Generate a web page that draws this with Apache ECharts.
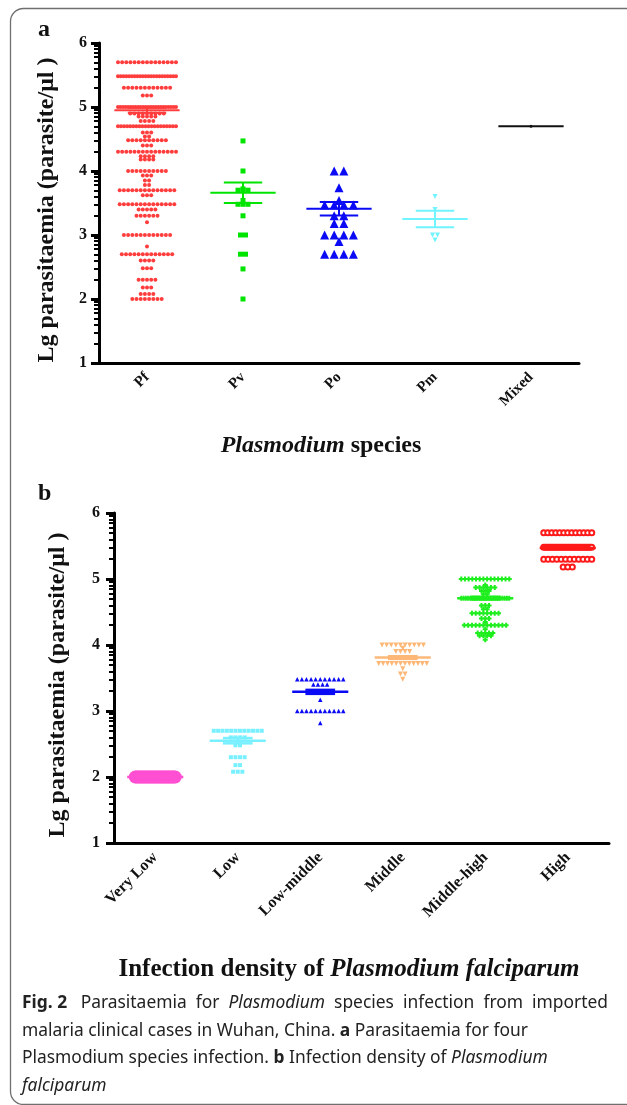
<!DOCTYPE html>
<html>
<head>
<meta charset="utf-8">
<script src="https://cdn.jsdelivr.net/npm/echarts@6/dist/echarts.min.js"></script>
<style>
  html, body { margin: 0; padding: 0; background: #fff; }
  #chart { width: 627px; height: 1105px; }
</style>
</head>
<body>
<div id="chart"></div>
<script>
// each row = [lg parasitaemia, number of dots drawn on that row]
const speciesCats = ['Pf', 'Pv', 'Po', 'Pm', 'Mixed'];
const pfRows = [
  [5.70, 15], [5.48, 22], [5.30, 12], [5.18, 3],
  [5.00, 24], [4.90, 9], [4.85, 5], [4.78, 4], [4.70, 20],
  [4.60, 3], [4.54, 2], [4.48, 10], [4.40, 3], [4.30, 15],
  [4.23, 4], [4.18, 4], [4.00, 10], [3.93, 3], [3.85, 2], [3.78, 2],
  [3.70, 14], [3.62, 3], [3.48, 14], [3.40, 5], [3.30, 6], [3.20, 1],
  [3.00, 12], [2.82, 1], [2.70, 13], [2.60, 4], [2.48, 3],
  [2.30, 5], [2.18, 3], [2.08, 4], [2.00, 8]
];
const pvRows = [[4.47, 1], [4.00, 1], [3.72, 1], [3.70, 3], [3.54, 1], [3.48, 3], [3.30, 1], [3.00, 2], [2.70, 2], [2.47, 1], [2.00, 1]];
const poRows = [[4.00, 2], [3.74, 1], [3.54, 1], [3.47, 4], [3.30, 2], [3.18, 2], [3.00, 4], [2.90, 1], [2.70, 4]];
const pmRows = [[3.60, 1], [3.40, 1], [3.00, 2], [2.92, 1]];
const mixedRows = [[4.70, 1]];
// [mean, sem] per species
const speciesStats = [[4.95, 0.04], [3.66, 0.16], [3.41, 0.105], [3.25, 0.13], [4.70, 0]];

const densityCats = ['Very Low', 'Low', 'Low-middle', 'Middle', 'Middle-high', 'High'];
const veryLowRows = [[2.00, 30]];
const lowRows = [[2.70, 12], [2.60, 4], [2.48, 2], [2.30, 4], [2.18, 2], [2.08, 3]];
const lowMiddleRows = [[3.48, 11], [3.40, 4], [3.30, 4], [3.17, 1], [3.00, 11], [2.82, 1]];
const middleRows = [[4.00, 10], [3.95, 1], [3.90, 4], [3.81, 6], [3.72, 12], [3.64, 1], [3.56, 2], [3.48, 1]];
const middleHighRows = [
  [5.00, 14], [4.91, 1], [4.87, 6], [4.82, 3], [4.77, 2], [4.71, 22],
  [4.60, 3], [4.54, 2], [4.48, 8], [4.40, 3], [4.35, 1], [4.30, 12],
  [4.24, 1], [4.18, 5], [4.14, 4], [4.08, 1]
];
const highRows = [[5.70, 13], [5.48, 30], [5.30, 12], [5.18, 3]];
const densityStats = [[2.00, 0], [2.55, 0.04], [3.29, 0.03], [3.81, 0.02], [4.71, 0.02], [5.47, 0.01]];

const yTicks = [1, 2, 3, 4, 5, 6];

const speciesColors = ['#ff3d3d', '#00e400', '#0a0af5', '#70f4ff', '#111111'];
const densityColors = ['#ff4fd2', '#78f0ff', '#0a0af5', '#fdb877', '#1eee1e', '#ff1a1a'];

// minor ticks of a log10 scale inside every decade
const minorTicks = [];
for (let n = yTicks[0]; n < yTicks[yTicks.length - 1]; n++) {
  for (let k = 2; k <= 9; k++) minorTicks.push(n + Math.log10(k));
}

// column scatter: dots of one row are spread side by side round the column centre
function swarm(rows, col, gap, span) {
  const pts = [];
  rows.forEach(([v, n]) => {
    const step = n > 1 ? Math.min(gap, span / (n - 1)) : 0;
    for (let j = 0; j < n; j++) pts.push([col + (j - (n - 1) / 2) * step, v]);
  });
  return pts;
}

function dots(rows, col, color, symbol, size, gap, span, xi, yi, extra) {
  return Object.assign({
    type: 'scatter', xAxisIndex: xi, yAxisIndex: yi,
    symbol: symbol, symbolSize: size,
    itemStyle: { color: color, opacity: 1 },
    data: swarm(rows, col, gap, span)
  }, extra || {});
}

function statSeries(stats, colors, xi, yi, lw, meanHalf, capHalf) {
  return {
    type: 'custom', xAxisIndex: xi, yAxisIndex: yi, z: 5,
    data: stats.map((s, i) => [i, s[0], s[1]]),
    renderItem: function (params, api) {
      const i = api.value(0), m = api.value(1), s = api.value(2);
      const band = api.size([1, 0])[0];
      const c = colors[i];
      const mid = api.coord([i, m]);
      const st = { stroke: c, lineWidth: lw };
      const children = [{
        type: 'line', style: st,
        shape: { x1: mid[0] - band * meanHalf, y1: mid[1], x2: mid[0] + band * meanHalf, y2: mid[1] }
      }];
      if (s > 0) {
        const hi = api.coord([i, m + s]);
        const lo = api.coord([i, m - s]);
        children.push(
          { type: 'line', style: st, shape: { x1: hi[0], y1: hi[1], x2: lo[0], y2: lo[1] } },
          { type: 'line', style: st, shape: { x1: hi[0] - band * capHalf, y1: hi[1], x2: hi[0] + band * capHalf, y2: hi[1] } },
          { type: 'line', style: st, shape: { x1: lo[0] - band * capHalf, y1: lo[1], x2: lo[0] + band * capHalf, y2: lo[1] } }
        );
      }
      return { type: 'group', children: children };
    }
  };
}

const serif = '"Liberation Serif", "Times New Roman", serif';
const sans = '"Noto Sans", sans-serif';

function yAxes(gi, labelMargin) {
  return [{
    gridIndex: gi, type: 'value', position: 'left',
    min: yTicks[0], max: yTicks[yTicks.length - 1], interval: 1,
    axisLine: { show: true, onZero: false, lineStyle: { color: '#000', width: 3 } },
    axisTick: { show: true, length: 8, lineStyle: { color: '#000', width: 3 } },
    axisLabel: { margin: labelMargin, color: '#111', fontFamily: serif, fontWeight: 'bold', fontSize: 16 },
    splitLine: { show: false }
  }, {
    gridIndex: gi, type: 'value', position: 'left',
    min: yTicks[0], max: yTicks[yTicks.length - 1],
    axisLine: { show: false, onZero: false },
    axisTick: { show: true, length: 5, customValues: minorTicks, lineStyle: { color: '#000', width: 2 } },
    axisLabel: { show: false },
    splitLine: { show: false }
  }];
}

function xAxes(gi, cats, fontSize) {
  return [{
    gridIndex: gi, type: 'category', position: 'bottom', data: cats,
    axisLine: { onZero: false, lineStyle: { color: '#000', width: 3 } },
    axisTick: { alignWithLabel: true, length: 8, lineStyle: { color: '#000', width: 3 } },
    axisLabel: { rotate: 45, margin: 12, interval: 0, color: '#111', fontFamily: serif, fontWeight: 'bold', fontSize: fontSize }
  }, {
    gridIndex: gi, type: 'value', position: 'bottom', show: false,
    axisLine: { onZero: false },
    min: -0.5, max: cats.length - 0.5
  }];
}

function caption(y, text) {
  return {
    type: 'text', x: 22, y: y,
    style: {
      text: text, fontFamily: sans, fontSize: 17.4, fill: '#222', verticalAlign: 'middle',
      rich: {
        b: { fontFamily: sans, fontWeight: 'bold', fontSize: 17.4, fill: '#222' },
        i: { fontFamily: sans, fontStyle: 'italic', fontSize: 17.4, fill: '#222' }
      }
    }
  };
}

const gapA = 4.2 / 96, spanA = 58 / 96;
const gapB = 4.6 / 82.5, spanB = 48 / 82.5;
const invTri = 'path://M0,0L10,0L5,9Z';
const plus = 'path://M3,0h4v3h3v4h-3v3h-4v-3h-3v-4h3z';

const chart = echarts.init(document.getElementById('chart'));
chart.setOption({
  animation: false,
  backgroundColor: '#fff',
  grid: [
    { left: 99, top: 43, width: 480, height: 320 },
    { left: 114, top: 513, width: 495, height: 330 }
  ],
  xAxis: xAxes(0, speciesCats, 15).concat(xAxes(1, densityCats, 16)),
  yAxis: yAxes(0, 12).concat(yAxes(1, 14)),
  series: [
    dots(pfRows, 0, speciesColors[0], 'circle', 4, gapA, spanA, 1, 0),
    dots(pvRows, 1, speciesColors[1], 'rect', 5, 5 / 96, spanA, 1, 0),
    dots(poRows, 2, speciesColors[2], 'triangle', 9, 9.6 / 96, spanA, 1, 0),
    dots(pmRows, 3, speciesColors[3], invTri, 5, 5 / 96, spanA, 1, 0),
    dots(mixedRows, 4, speciesColors[4], 'circle', 3, gapA, spanA, 1, 0),
    statSeries(speciesStats, speciesColors, 1, 0, 2, 0.34, 0.2),

    dots(veryLowRows, 0, densityColors[0], 'circle', 13, gapB, 40 / 82.5, 3, 2),
    dots(lowRows, 1, densityColors[1], 'rect', 4, gapB, spanB, 3, 2),
    dots(lowMiddleRows, 2, densityColors[2], 'triangle', 4.5, gapB, spanB, 3, 2),
    dots(middleRows, 3, densityColors[3], invTri, 5, gapB, spanB, 3, 2),
    dots(middleHighRows, 4, densityColors[4], plus, 5, 3.8 / 82.5, spanB, 3, 2),
    dots(highRows, 5, densityColors[5], 'emptyCircle', 5, gapB, spanB, 3, 2,
      { itemStyle: { color: densityColors[5], borderWidth: 1.5, opacity: 1 } }),
    statSeries(densityStats, densityColors, 3, 2, 2.5, 0.34, 0.18)
  ],
  graphic: [
    { type: 'rect', silent: true, shape: { x: 10.5, y: 8.5, width: 700, height: 1096, r: 13 },
      style: { fill: 'none', stroke: '#707070', lineWidth: 1.3 } },
    { type: 'text', x: 38, y: 30, style: { text: 'a', fontFamily: serif, fontWeight: 'bold', fontSize: 24, fill: '#111', verticalAlign: 'middle' } },
    { type: 'text', x: 38, y: 494, style: { text: 'b', fontFamily: serif, fontWeight: 'bold', fontSize: 24, fill: '#111', verticalAlign: 'middle' } },
    { type: 'text', x: 47, y: 210, rotation: Math.PI / 2,
      style: { text: 'Lg parasitaemia (parasite/μl )', fontFamily: serif, fontWeight: 'bold', fontSize: 24, fill: '#111', align: 'center', verticalAlign: 'middle' } },
    { type: 'text', x: 58, y: 685, rotation: Math.PI / 2,
      style: { text: 'Lg parasitaemia (parasite/μl )', fontFamily: serif, fontWeight: 'bold', fontSize: 24, fill: '#111', align: 'center', verticalAlign: 'middle' } },
    { type: 'text', x: 321, y: 446,
      style: { text: '{i|Plasmodium} species', fontFamily: serif, fontWeight: 'bold', fontSize: 24, fill: '#111', align: 'center', verticalAlign: 'middle',
        rich: { i: { fontFamily: serif, fontWeight: 'bold', fontStyle: 'italic', fontSize: 24, fill: '#111' } } } },
    { type: 'text', x: 349, y: 970,
      style: { text: 'Infection density of {i|Plasmodium falciparum}', fontFamily: serif, fontWeight: 'bold', fontSize: 25, fill: '#111', align: 'center', verticalAlign: 'middle',
        rich: { i: { fontFamily: serif, fontWeight: 'bold', fontStyle: 'italic', fontSize: 25, fill: '#111' } } } },
    caption(1003, '{b|Fig. 2}   Parasitaemia  for  {i|Plasmodium}  species  infection  from  imported'),
    caption(1031, 'malaria clinical cases in Wuhan, China. {b|a} Parasitaemia for four'),
    caption(1058, 'Plasmodium species infection. {b|b} Infection density of {i|Plasmodium}'),
    caption(1086, '{i|falciparum}')
  ]
});
</script>
</body>
</html>
